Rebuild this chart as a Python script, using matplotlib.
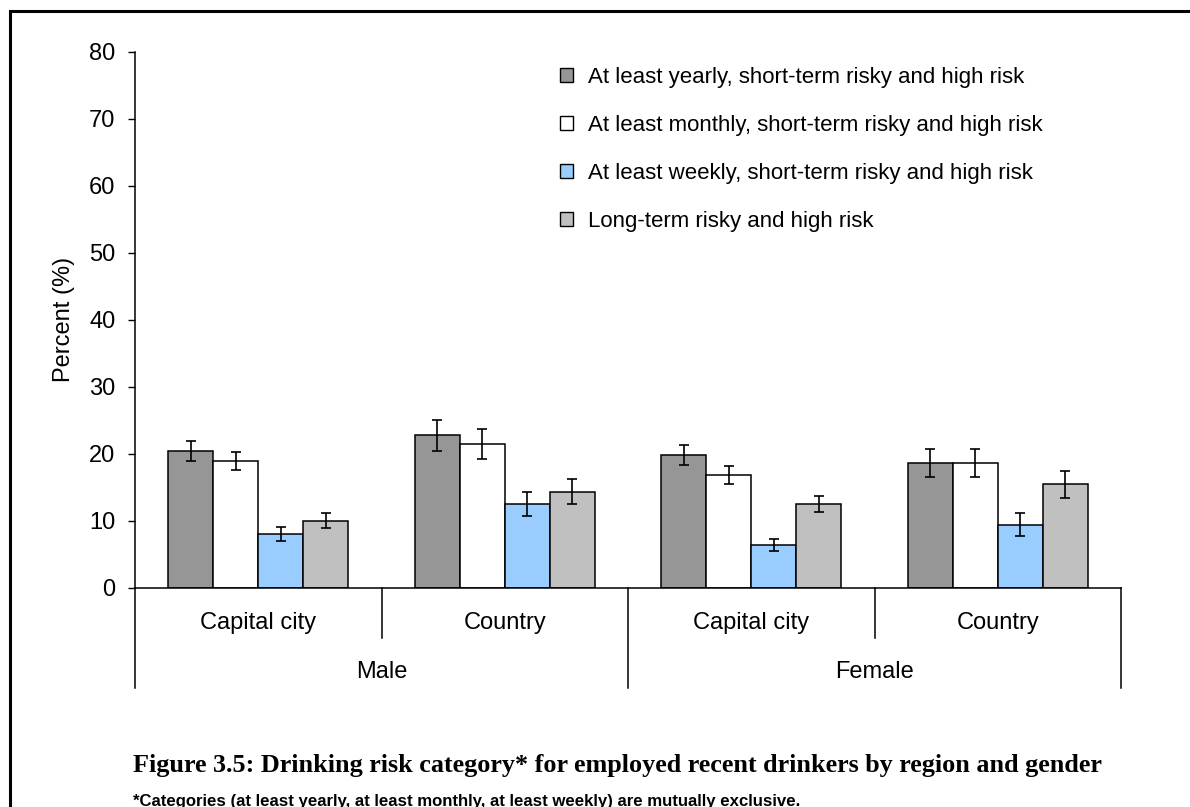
import matplotlib
matplotlib.use("Agg")
import matplotlib.pyplot as plt
import numpy as np
from matplotlib.patches import Rectangle, Patch
from matplotlib.lines import Line2D

plt.rcParams['font.family'] = ['Liberation Sans', 'DejaVu Sans']

subgroups = ["Capital city", "Country", "Capital city", "Country"]
genders = ["Male", "Female"]
series_names = [
    "At least yearly, short-term risky and high risk",
    "At least monthly, short-term risky and high risk",
    "At least weekly, short-term risky and high risk",
    "Long-term risky and high risk",
]
yearly = [20.4, 22.7, 19.8, 18.6]
monthly = [18.9, 21.4, 16.8, 18.6]
weekly = [8.0, 12.5, 6.3, 9.4]
longterm = [10.0, 14.3, 12.4, 15.4]
yearly_err = [1.5, 2.3, 1.5, 2.1]
monthly_err = [1.4, 2.2, 1.4, 2.05]
weekly_err = [1.0, 1.8, 0.9, 1.75]
longterm_err = [1.05, 1.9, 1.2, 2.05]
yticks = [0, 10, 20, 30, 40, 50, 60, 70, 80]

values = [yearly, monthly, weekly, longterm]
errors = [yearly_err, monthly_err, weekly_err, longterm_err]
colors = ["#969696", "#ffffff", "#99ccff", "#c0c0c0"]

W, H = 1190, 807
fig = plt.figure(figsize=(W / 100, H / 100), dpi=100)
ax_left, ax_right, ax_top, ax_bot = 135, 1121, 51.7, 587.5
ax = fig.add_axes([ax_left / W, (H - ax_bot) / H, (ax_right - ax_left) / W, (ax_bot - ax_top) / H])

x = np.arange(len(subgroups))
bw = 0.183
for i, (vals, errs, c) in enumerate(zip(values, errors, colors)):
    pos = x + (i - 1.5) * bw
    ax.bar(pos, vals, width=bw, color=c, edgecolor="black", linewidth=1.1, zorder=2,
           label=series_names[i])
    ax.errorbar(pos, vals, yerr=errs, fmt="none", ecolor="black", elinewidth=1.2,
                capsize=3.5, capthick=1.2, zorder=3)

ax.set_xlim(-0.5, 3.5)
ax.set_ylim(0, 80)
ax.set_yticks(yticks)
ax.tick_params(axis="y", direction="out", length=5, width=1, labelsize=17, pad=9)
ax.set_xticks([])
for s in ["top", "right"]:
    ax.spines[s].set_visible(False)
ax.spines["left"].set_linewidth(1.1)
ax.spines["bottom"].set_linewidth(1.1)
ax.set_ylabel("Percent (%)", fontsize=17, labelpad=10)

axh = ax_bot - ax_top
trans = ax.get_xaxis_transform()
inner_len = 50 / axh
outer_len = 100 / axh
for xs in [-0.5, 1.5, 3.5]:
    ax.add_line(Line2D([xs, xs], [0, -outer_len], transform=trans, color="black", lw=1.1, clip_on=False))
for xs in [0.5, 2.5]:
    ax.add_line(Line2D([xs, xs], [0, -inner_len], transform=trans, color="black", lw=1.1, clip_on=False))
for xi, lab in zip(x, subgroups):
    ax.text(xi, -36 / axh, lab, transform=trans, ha="center", va="center", fontsize=17)
for gi, g in enumerate(genders):
    ax.text(0.5 + 2 * gi, -84.5 / axh, g, transform=trans, ha="center", va="center", fontsize=17)

handles = [Patch(facecolor=c, edgecolor="black", linewidth=1.0) for c in colors]
leg = ax.legend(handles, series_names, loc="upper left",
                bbox_to_anchor=((551 - ax_left) / (ax_right - ax_left), (ax_bot - 58) / axh),
                frameon=False, fontsize=16, handlelength=0.6, handleheight=0.6,
                handletextpad=0.65, labelspacing=1.22, borderaxespad=0)

title = fig.text(133 / W, 1 - 772 / H,
                 "Figure 3.5: Drinking risk category* for employed recent drinkers by region and gender",
                 family=["Liberation Serif"], fontweight="bold", fontsize=18, ha="left", va="baseline")
note = fig.text(133 / W, 1 - 806 / H,
                "*Categories (at least yearly, at least monthly, at least weekly) are mutually exclusive.",
                fontweight="bold", fontsize=12, ha="left", va="baseline")

fig.canvas.draw()
r = fig.canvas.get_renderer()
for t, target in [(title, 967), (note, 667)]:
    w = t.get_window_extent(r).width
    t.set_fontsize(t.get_fontsize() * target / w)

fig.add_artist(Rectangle((10 / W, -0.1), 1.2, 1.1 - 11 / H, transform=fig.transFigure,
                         fill=False, edgecolor="black", linewidth=2.2))

fig.savefig("out.png", dpi=100)
